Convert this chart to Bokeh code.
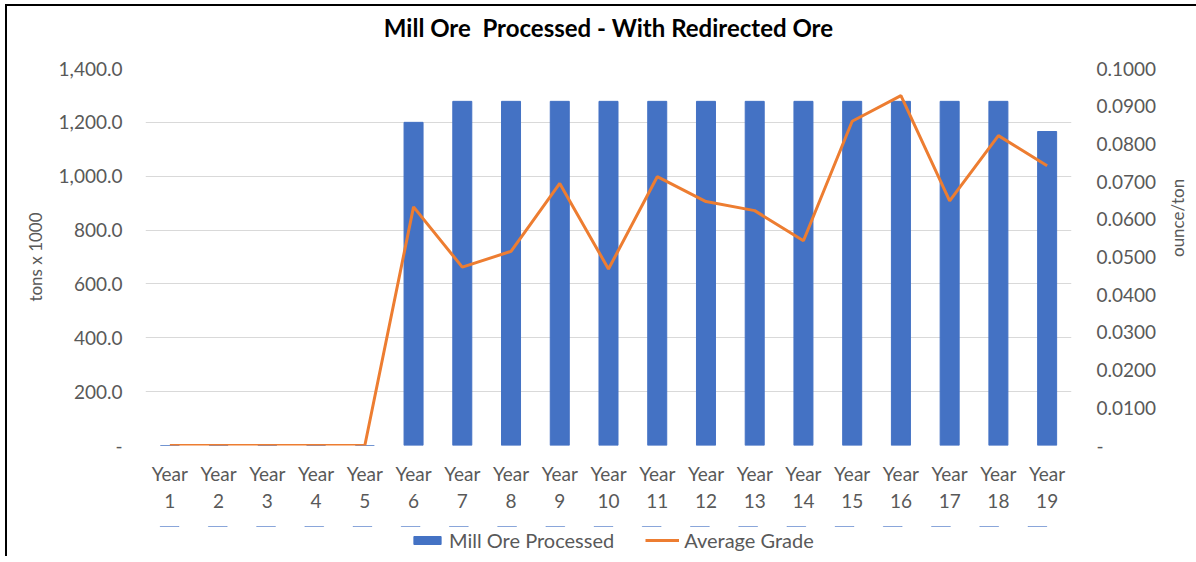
import math
from bokeh.plotting import figure
from bokeh.layouts import column
from bokeh.models import (FactorRange, Range1d, LinearAxis, FixedTicker,
                          NumeralTickFormatter, Legend, LegendItem, Title)
from bokeh.embed import file_html
from bokeh.resources import INLINE

# ---- data ----
years = ["Year\n1", "Year\n2", "Year\n3", "Year\n4", "Year\n5", "Year\n6",
         "Year\n7", "Year\n8", "Year\n9", "Year\n10", "Year\n11", "Year\n12",
         "Year\n13", "Year\n14", "Year\n15", "Year\n16", "Year\n17", "Year\n18",
         "Year\n19"]
mill_ore = [0, 0, 0, 0, 0, 1200, 1278, 1278, 1278, 1278, 1278, 1278, 1278,
            1278, 1278, 1278, 1278, 1278, 1166]
avg_grade = [0, 0, 0, 0, 0, 0.0633, 0.0473, 0.0515, 0.0695, 0.0468, 0.0713,
             0.0647, 0.0623, 0.0543, 0.0860, 0.0928, 0.0649, 0.0822, 0.0742]
left_ticks = [0, 200, 400, 600, 800, 1000, 1200, 1400]
right_ticks = [0, 0.01, 0.02, 0.03, 0.04, 0.05, 0.06, 0.07, 0.08, 0.09, 0.1]
title_text = "Mill Ore\u00a0 Processed - With Redirected Ore"
series_names = ["Mill Ore Processed", "Average Grade"]

FONT = "Lato"
TXT = "#595959"
FS = "19px"
BLUE = "#4472C4"
ORANGE = "#ED7D31"

p = figure(x_range=FactorRange(factors=years), y_range=Range1d(0, 1400),
           frame_width=926, frame_height=377,
           min_border_left=138, min_border_right=120,
           min_border_top=62, min_border_bottom=81,
           output_backend="svg", toolbar_location=None)
p.outline_line_color = None
p.background_fill_color = "white"
p.border_fill_color = "white"

# spacer title (closest to frame) then real title above it
p.add_layout(Title(text=" ", text_font_size="1px", standoff=21), "above")
p.add_layout(Title(text=title_text, align="center", text_font=FONT,
                   text_font_size="24px", text_font_style="bold",
                   text_color="#000000", standoff=4,
                   vertical_align="middle"), "above")

p.extra_y_ranges = {"grade": Range1d(0, 0.1)}

r_bar = p.vbar(x=years, top=mill_ore, width=0.39, color=BLUE)
r_line = p.line(x=years, y=avg_grade, y_range_name="grade",
                line_color=ORANGE, line_width=3)

# left axis
ya = p.yaxis[0]
ya.ticker = FixedTicker(ticks=left_ticks)
ya.formatter = NumeralTickFormatter(format="0,0.0")
ya.major_label_overrides = {0: "-"}
ya.axis_label = "tons x 1000"

# right axis
ra = LinearAxis(y_range_name="grade", axis_label="ounce/ton",
                ticker=FixedTicker(ticks=right_ticks),
                formatter=NumeralTickFormatter(format="0.0000"))
ra.major_label_overrides = {0: "-"}
if "axis_label_orientation" in ra.properties():
    ra.axis_label_orientation = math.pi / 2
p.add_layout(ra, "right")

for ax in [ya, ra]:
    ax.axis_line_color = None
    ax.major_tick_line_color = None
    ax.minor_tick_line_color = None
    ax.major_tick_in = 0
    ax.major_tick_out = 0
    ax.minor_tick_in = 0
    ax.minor_tick_out = 0
    ax.major_label_text_font = FONT
    ax.major_label_text_font_size = FS
    ax.major_label_text_color = TXT
    ax.axis_label_text_font = FONT
    ax.axis_label_text_font_size = "17px"
    ax.axis_label_text_font_style = "normal"
    ax.axis_label_text_color = TXT
ya.major_label_standoff = 23
ya.axis_label_standoff = 10
ra.major_label_standoff = 25
ra.axis_label_standoff = 18

xa = p.xaxis[0]
xa.axis_label = None
xa.axis_label_standoff = 0
xa.axis_line_color = None
xa.major_tick_line_color = None
xa.minor_tick_line_color = None
xa.major_tick_in = 0
xa.major_tick_out = 0
xa.minor_tick_in = 0
xa.minor_tick_out = 0
xa.major_label_text_font = FONT
xa.major_label_text_font_size = FS
xa.major_label_text_color = TXT
xa.major_label_text_line_height = 1.18
xa.major_label_standoff = 16

p.xgrid.grid_line_color = None
p.ygrid.ticker = FixedTicker(ticks=left_ticks)
p.ygrid.grid_line_color = "#d9d9d9"
p.ygrid.grid_line_width = 1

# ---- legend strip below the chart (same series, drawn out of view) ----
lf = figure(width=1184, height=30, x_range=FactorRange(factors=years),
            y_range=Range1d(-2, -1),
            x_axis_type=None, y_axis_type=None, min_border=0,
            output_backend="svg", toolbar_location=None)
lf.outline_line_color = None
lf.background_fill_color = "white"
lf.border_fill_color = "white"
lf.xgrid.visible = False
lf.ygrid.visible = False
lg_bar = lf.vbar(x=years, top=mill_ore, width=0.39, color=BLUE)
lg_line = lf.line(x=years, y=avg_grade, line_color=ORANGE, line_width=3)

legend = Legend(items=[LegendItem(label=series_names[0], renderers=[lg_bar]),
                       LegendItem(label=series_names[1], renderers=[lg_line])],
                orientation="horizontal", location=(265, 4),
                border_line_color=None, background_fill_alpha=0,
                label_text_font=FONT, label_text_font_size="20px",
                label_text_color=TXT, glyph_width=34, glyph_height=10,
                label_height=18, spacing=31, padding=0, margin=0,
                label_standoff=5)
lf.add_layout(legend)

layout = column(p, lf, spacing=0,
                styles={"border-left": "2px solid black",
                        "border-top": "2px solid black",
                        "margin-left": "5px", "margin-top": "4px"})

open("out.html", "w").write(file_html(layout, INLINE))
